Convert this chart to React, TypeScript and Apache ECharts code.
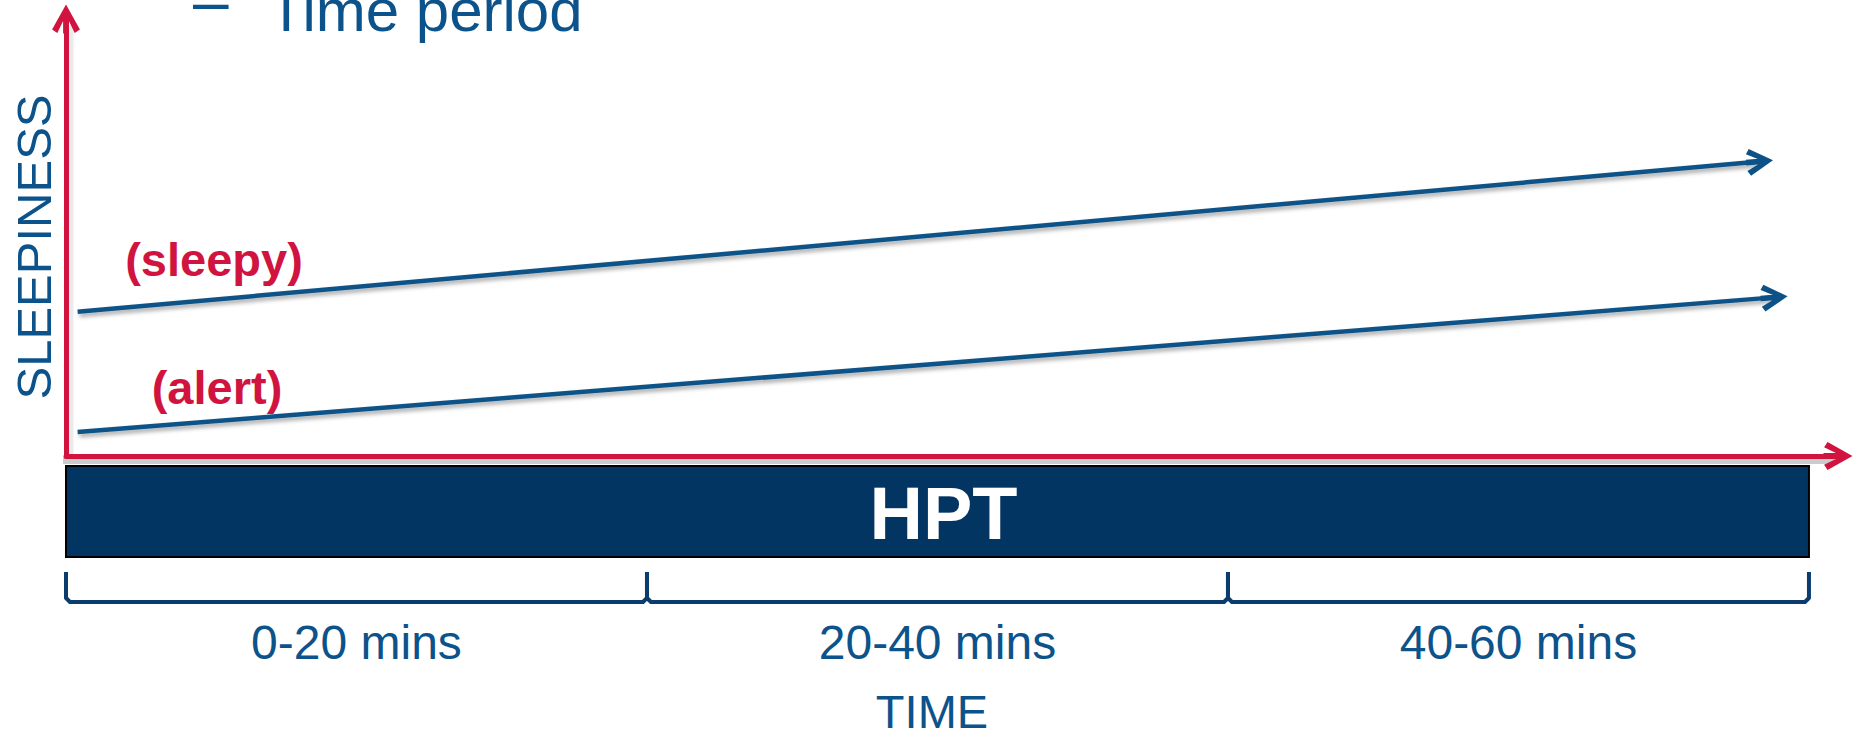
import React, { useEffect, useRef } from 'react';
import * as echarts from 'echarts';

// ---- content / data ----
const titleDash = '–';
const titleText = 'Time period';
const yAxisName = 'SLEEPINESS';
const xAxisName = 'TIME';
const barLabel = 'HPT';
const lineLabels = ['(sleepy)', '(alert)'];
// [minutes, sleepiness] start and end of each trend arrow
const sleepyLine = [[0.4, 33.0], [58.3, 67.4]];
const alertLine = [[0.4, 5.5], [58.8, 36.3]];
// HPT span in minutes
const hptSpan = [[0, 60, 0]];
const periodLabels = ['0-20 mins', '20-40 mins', '40-60 mins'];
const periodBounds = [[0, 20, 0], [20, 40, 0], [40, 60, 0]];
const xMax = 61;
const yMax = 100;

// ---- styles ----
const FONT = '"Liberation Sans", Arial, sans-serif';
const RED = '#D0143F';
const BLUE = '#0C538B';
const LINE_BLUE = '#0D5287';
const NAVY = '#033563';
const BRACKET = '#0A3C6E';
const CHEVRON =
  'path://M50,0 L98,86 L80,98 L50,36 L20,98 L2,86 Z M40,30 L60,30 L60,100 L40,100 Z';

function txt(text: string, x: number, y: number, size: number, color: string, opts: any = {}) {
  return {
    type: 'text',
    x,
    y,
    rotation: opts.rotation || 0,
    silent: true,
    style: {
      text,
      fill: color,
      fontSize: size,
      fontFamily: FONT,
      fontWeight: opts.bold ? 'bold' : 'normal',
      align: opts.align || 'center',
      verticalAlign: 'middle',
      textAlign: opts.align || 'center',
      textVerticalAlign: 'middle',
    },
  };
}

export default function App() {
  const ref = useRef<HTMLDivElement>(null);

  useEffect(() => {
    const chart = echarts.init(ref.current!, null, { renderer: 'svg' });

    const axisLineStyle = { color: RED, width: 5 };

    const option: any = {
      animation: false,
      backgroundColor: '#ffffff',
      grid: { left: 66, right: 20, top: 19, bottom: 274 },
      xAxis: {
        type: 'value',
        min: 0,
        max: xMax,
        z: 5,
        axisLine: {
          show: true,
          onZero: false,
          symbol: ['none', CHEVRON],
          symbolSize: [29, 29],
          lineStyle: axisLineStyle,
        },
        axisTick: { show: false },
        axisLabel: { show: false },
        splitLine: { show: false },
      },
      yAxis: {
        type: 'value',
        min: 0,
        max: yMax,
        z: 5,
        axisLine: {
          show: true,
          onZero: false,
          symbol: ['none', CHEVRON],
          symbolSize: [29, 29],
          lineStyle: axisLineStyle,
        },
        axisTick: { show: false },
        axisLabel: { show: false },
        splitLine: { show: false },
      },
      series: [
        {
          type: 'lines',
          coordinateSystem: 'cartesian2d',
          silent: true,
          symbol: ['none', CHEVRON],
          symbolSize: [0, 27],
          lineStyle: {
            color: LINE_BLUE,
            width: 4.5,
            opacity: 1,
            shadowColor: 'rgba(0,0,0,0.35)',
            shadowBlur: 4,
            shadowOffsetX: 2,
            shadowOffsetY: 3,
          },
          data: [{ coords: sleepyLine }, { coords: alertLine }],
        },
        {
          type: 'custom',
          coordinateSystem: 'cartesian2d',
          clip: false,
          silent: true,
          z: 1,
          data: hptSpan,
          encode: { x: [0, 1], y: 2 },
          renderItem: (params: any, api: any) => {
            const p0 = api.coord([api.value(0), 0]);
            const p1 = api.coord([api.value(1), 0]);
            const pEnd = api.coord([xMax, 0]);
            return {
              type: 'group',
              children: [
                {
                  type: 'rect',
                  shape: { x: p0[0] - 3, y: p0[1] + 2, width: pEnd[0] - p0[0], height: 6 },
                  style: { fill: 'rgba(0,0,0,0.2)' },
                },
                {
                  type: 'rect',
                  shape: { x: p0[0] + 2.5, y: p0[1] - 430, width: 5, height: 430 },
                  style: { fill: 'rgba(0,0,0,0.08)' },
                },
                {
                  type: 'rect',
                  shape: { x: p0[0], y: p0[1] + 10, width: p1[0] - p0[0], height: 91 },
                  style: { fill: NAVY, stroke: '#000000', lineWidth: 2 },
                },
                {
                  type: 'text',
                  x: (p0[0] + p1[0]) / 2 + 6,
                  y: p0[1] + 57,
                  style: {
                    text: barLabel,
                    fill: '#ffffff',
                    fontSize: 74,
                    fontWeight: 'bold',
                    fontFamily: FONT,
                    align: 'center',
                    verticalAlign: 'middle',
                  },
                },
              ],
            };
          },
        },
        {
          type: 'custom',
          coordinateSystem: 'cartesian2d',
          clip: false,
          silent: true,
          data: periodBounds,
          encode: { x: [0, 1], y: 2 },
          renderItem: (params: any, api: any) => {
            const p0 = api.coord([api.value(0), 0]);
            const p1 = api.coord([api.value(1), 0]);
            const yTop = p0[1] + 116;
            const yBot = p0[1] + 146;
            return {
              type: 'group',
              children: [
                {
                  type: 'polyline',
                  shape: {
                    points: [
                      [p0[0], yTop],
                      [p0[0], yBot - 4],
                      [p0[0] + 4, yBot],
                      [p1[0] - 4, yBot],
                      [p1[0], yBot - 4],
                      [p1[0], yTop],
                    ],
                  },
                  style: { fill: 'none', stroke: BRACKET, lineWidth: 4, lineJoin: 'round' },
                },
                {
                  type: 'text',
                  x: (p0[0] + p1[0]) / 2,
                  y: p0[1] + 186,
                  style: {
                    text: periodLabels[params.dataIndex],
                    fill: BLUE,
                    fontSize: 48,
                    fontFamily: FONT,
                    align: 'center',
                    verticalAlign: 'middle',
                  },
                },
              ],
            };
          },
        },
      ],
      graphic: [
        txt(titleDash, 193, 1, 64, BLUE, { align: 'left' }),
        txt(titleText, 268, 10, 60, BLUE, { align: 'left' }),
        txt(yAxisName, 34, 247, 49, BLUE, { rotation: Math.PI / 2 }),
        txt(lineLabels[0], 214, 259, 47, RED, { bold: true }),
        txt(lineLabels[1], 217, 387, 47, RED, { bold: true }),
        txt(xAxisName, 932, 711, 47, BLUE),
      ],
    };

    chart.setOption(option);
    return () => chart.dispose();
  }, []);

  return (
    <div
      ref={ref}
      style={{ position: 'fixed', left: 0, top: 0, width: 1858, height: 730, background: '#fff' }}
    />
  );
}
